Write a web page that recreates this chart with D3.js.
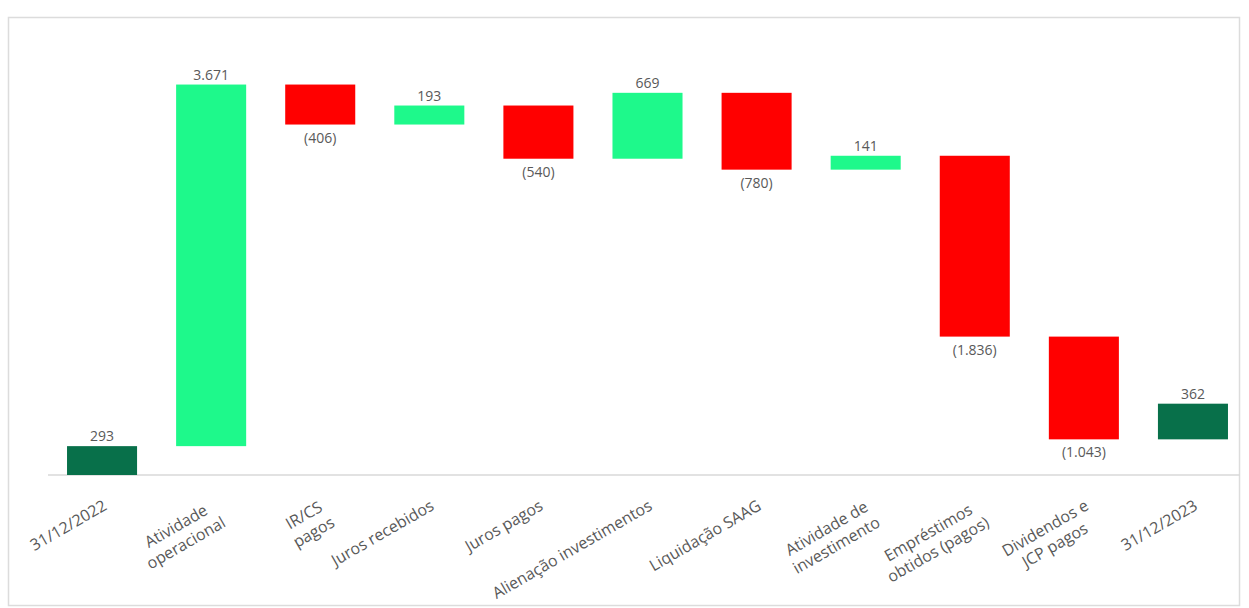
<!DOCTYPE html>
<html><head><meta charset="utf-8">
<script src="https://cdn.jsdelivr.net/npm/d3@7/dist/d3.min.js"></script>
<style>
html,body{margin:0;padding:0;background:#fff;}
svg{display:block;font-family:"Open Sans",sans-serif;}
</style></head>
<body>
<svg id="chart" width="1249" height="608"></svg>
<script>
const categories = ["31/12/2022","Atividade\noperacional","IR/CS\npagos","Juros recebidos","Juros pagos","Alienação investimentos","Liquidação SAAG","Atividade de\ninvestimento","Empréstimos\nobtidos (pagos)","Dividendos e\nJCP pagos","31/12/2023"];
const values = [293, 3671, -406, 193, -540, 669, -780, 141, -1836, -1043, 362];
const kinds = ["total","delta","delta","delta","delta","delta","delta","delta","delta","delta","total"];
const yDomain = [0, 4000];

const colors = {total:"#08704a", up:"#1ef98b", down:"#ff0000"};
const textColor = "#595959";

const svg = d3.select("#chart");
// frame
svg.append("rect").attr("x",8.5).attr("y",17.5).attr("width",1231).attr("height",588)
  .attr("fill","#fff").attr("stroke","#dcdcdc").attr("stroke-width",1.5);

const x = d3.scaleBand().domain(categories).range([47.5,1247.5]).paddingInner(0.358).paddingOuter(0.179);
const y = d3.scaleLinear().domain(yDomain).range([475,81]);

// compute floating bars
let run = 0;
const bars = categories.map((c,i)=>{
  const v = values[i];
  let y0, y1;
  if (kinds[i]==="total") {
    y0 = (i===0) ? 0 : run; y1 = y0 + v;
    if (i===0) run = v;
  } else { y0 = run; y1 = run + v; run = y1; }
  return {c, v, lo:Math.min(y0,y1), hi:Math.max(y0,y1), kind:kinds[i]};
});

const fmtLocale = d3.formatLocale({decimal:",", thousands:".", grouping:[3], currency:["R$",""]});
const fmt = fmtLocale.format(",d");

// baseline
svg.append("line").attr("x1",48).attr("x2",1240).attr("y1",y(0)).attr("y2",y(0))
  .attr("stroke","#d9d9d9").attr("stroke-width",1.5);

svg.append("g").selectAll("rect").data(bars).join("rect")
  .attr("x",d=>x(d.c)).attr("width",x.bandwidth())
  .attr("y",d=>y(d.hi)).attr("height",d=>y(d.lo)-y(d.hi))
  .attr("fill",d=>d.kind==="total"?colors.total:(d.v>=0?colors.up:colors.down));

svg.append("g").selectAll("text").data(bars).join("text")
  .attr("x",d=>x(d.c)+x.bandwidth()/2)
  .attr("y",d=> d.v>=0 ? y(d.hi)-5 : y(d.lo)+18)
  .attr("text-anchor","middle").attr("font-size",14).attr("fill",textColor)
  .text(d=> d.v>=0 ? fmt(d.v) : "("+fmt(-d.v)+")");

// x axis
const axis = svg.append("g").attr("transform",`translate(0,${y(0)})`)
  .call(d3.axisBottom(x).tickSize(0).tickSizeOuter(0));
axis.select(".domain").remove();
axis.selectAll(".tick").each(function(d){
  const g = d3.select(this);
  g.select("text").remove();
  const lines = d.split("\n");
  const lg = g.append("g").attr("transform","translate(3,29) rotate(-30)");
  const lh = 19.5;
  const ts = lines.map((l,i)=> lg.append("text").attr("font-size",16).attr("fill",textColor)
      .attr("font-family","'Open Sans',sans-serif")
      .attr("text-anchor","middle").attr("dy","0.35em")
      .attr("y",i*lh).text(l));
  const maxW = d3.max(ts, t=>t.node().getComputedTextLength());
  ts.forEach(t=>t.attr("x",-maxW/2));
});
</script>
</body></html>
